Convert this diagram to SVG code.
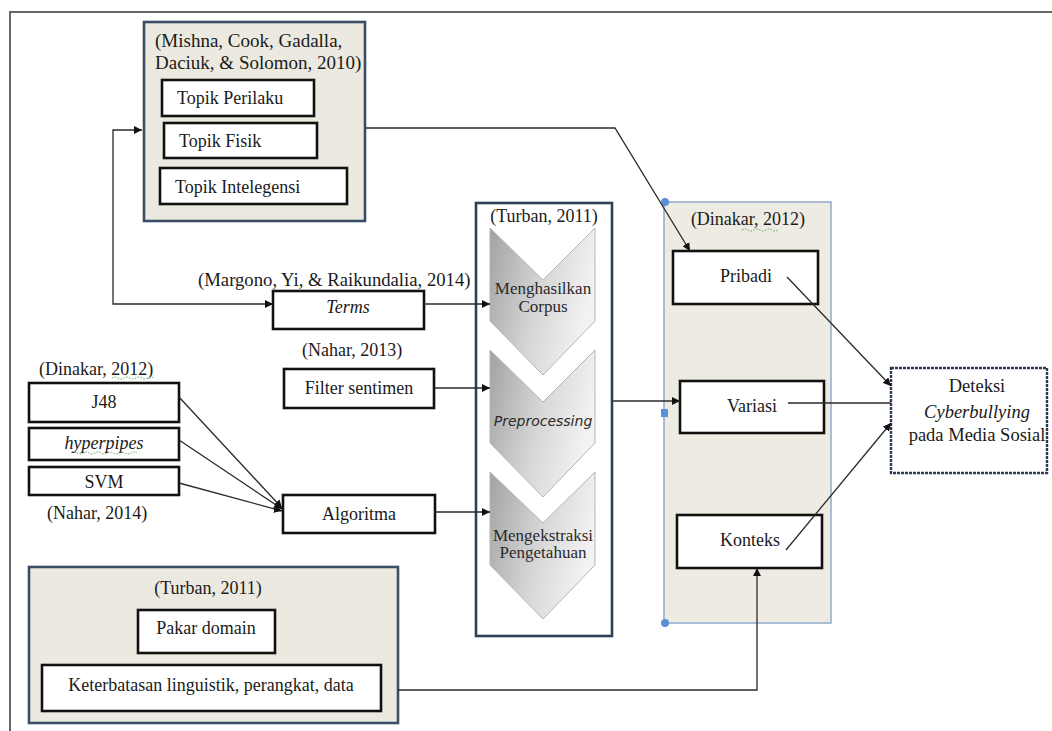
<svg xmlns="http://www.w3.org/2000/svg" width="1052" height="731" viewBox="0 0 1052 731">
<defs>
<style>
text{font-family:"Liberation Serif","DejaVu Serif","Times New Roman",serif;fill:#1a1a1a;font-size:18px}
.c{text-anchor:middle}
.i{font-style:italic}
.box{fill:#fff;stroke:#111;stroke-width:2.6}
.tan{fill:#ECEAE0;stroke:#3B4E66;stroke-width:2.6}
.col{fill:#fff;stroke:#2F4157;stroke-width:2.6}
.panel{fill:#EEECE2;stroke:#93AACB;stroke-width:1.5}
.chev{fill:url(#g);stroke:#b5b5b5;stroke-width:1}
.ct{font-size:17px;fill:#2a2a2a}
.ln{fill:none;stroke:#2a2a2a;stroke-width:1.3}
.sq{fill:none;stroke:#5aa05a;stroke-width:1;stroke-dasharray:1.5 1.5}
.h{fill:#5B8FD9}
.big{font-size:19px}
.out{font-size:18.5px}
</style>
<linearGradient id="g" x1="0" y1="0" x2="1" y2="0.3">
<stop offset="0" stop-color="#a2a2a2"/>
<stop offset="0.55" stop-color="#d6d6d6"/>
<stop offset="1" stop-color="#f2f2f2"/>
</linearGradient>
<marker id="a" viewBox="0 0 10 10" refX="10" refY="5" markerWidth="8" markerHeight="8" markerUnits="userSpaceOnUse" orient="auto-start-reverse">
<path d="M0,0 L10,5 L0,10 Z" fill="#111"/>
</marker>
</defs>
<rect x="0" y="0" width="1052" height="731" fill="#fff"/>
<g id="frame">
<path d="M10,731 V12 H1052" fill="none" stroke="#666" stroke-width="2"/>
</g>

<g id="topik-group">
<rect class="tan" x="144" y="22" width="221" height="199"/>
<text class="big" x="155" y="47">(Mishna, Cook, Gadalla,</text>
<text class="big" x="155" y="69">Daciuk, &amp; Solomon, 2010)</text>
</g>
<g id="topik-perilaku"><rect class="box" x="162" y="80" width="152" height="36"/><text x="177" y="104">Topik Perilaku</text></g>
<g id="topik-fisik"><rect class="box" x="164" y="123" width="153" height="35"/><text x="179" y="147">Topik Fisik</text></g>
<g id="topik-intelegensi"><rect class="box" x="160" y="168" width="187" height="36"/><text x="175" y="193">Topik Intelegensi</text></g>

<g id="terms">
<text x="198" y="286" style="font-size:18.7px">(Margono, Yi, &amp; Raikundalia, 2014)</text>
<rect class="box" x="273" y="291" width="151" height="38"/>
<text class="c i" x="348" y="313">Terms</text>
</g>
<g id="filter">
<text x="302" y="356">(Nahar, 2013)</text>
<rect class="box" x="284" y="369" width="150" height="39"/>
<text class="c" x="359" y="394">Filter sentimen</text>
</g>

<g id="algo-list">
<text x="39" y="375">(Dinakar, 2012)</text>
<path class="sq" d="M112,378 q3,-2 6,0 t6,0 t6,0 t6,0 t6,0 t6,0 t6,0"/>
</g>
<g id="j48"><rect class="box" x="29" y="383" width="150" height="39"/><text class="c" x="104" y="408">J48</text></g>
<g id="hyperpipes"><rect class="box" x="29" y="428" width="150" height="32"/><text class="c i" x="104" y="449">hyperpipes</text>
<path class="sq" d="M71,453 q3,-2 6,0 t6,0 t6,0 t6,0 t6,0 t6,0 t6,0 t6,0 t6,0 t6,0 t6,0"/></g>
<g id="svm"><rect class="box" x="29" y="467" width="150" height="28"/><text class="c" x="104" y="488">SVM</text></g>
<g id="nahar2014"><text x="47" y="519">(Nahar, 2014)</text></g>
<g id="algoritma"><rect class="box" x="283" y="495" width="152" height="38"/><text class="c" x="359" y="520">Algoritma</text></g>

<g id="turban-bottom">
<rect class="tan" x="29" y="567" width="369" height="156"/>
<text class="c" x="208" y="594">(Turban, 2011)</text>
</g>
<g id="pakar"><rect class="box" x="138" y="610" width="137" height="43"/><text class="c" x="206" y="634">Pakar domain</text></g>
<g id="keterbatasan"><rect class="box" x="42" y="665" width="339" height="46"/><text class="c" x="211" y="691">Keterbatasan linguistik, perangkat, data</text></g>

<g id="process-column">
<rect class="col" x="476" y="203" width="136" height="433"/>
<text class="c" x="544" y="222">(Turban, 2011)</text>
</g>
<g id="chev-corpus">
<path class="chev" d="M490,228 L543,280 L595,228 L595,321 L543,375 L490,321 Z"/>
<text class="c ct" x="543" y="294">Menghasilkan</text>
<text class="c ct" x="543" y="312">Corpus</text>
</g>
<g id="chev-pre">
<path class="chev" d="M490,350 L543,402 L595,350 L595,443 L543,497 L490,443 Z"/>
<text class="c ct" x="543" y="426" style="font-family:'DejaVu Sans','Liberation Sans',sans-serif;font-style:italic;font-size:14px">Preprocessing</text>
</g>
<g id="chev-ekstraksi">
<path class="chev" d="M490,472 L543,523 L595,472 L595,565 L543,619 L490,565 Z"/>
<text class="c ct" x="543" y="541">Mengekstraksi</text>
<text class="c ct" x="543" y="558">Pengetahuan</text>
</g>

<g id="dinakar-panel">
<rect class="panel" x="664" y="202" width="167" height="421"/>
<text class="c" x="748" y="225">(Dinakar, 2012)</text>
<path class="sq" d="M742,230 q3,-2 6,0 t6,0 t6,0 t6,0 t6,0 t6,0"/>
<circle class="h" cx="665" cy="202" r="4"/>
<circle class="h" cx="665" cy="623" r="4"/>
<rect class="h" x="661" y="409" width="7" height="8"/>
</g>
<g id="pribadi"><rect class="box" x="673" y="251" width="145" height="53"/><text class="c" x="746" y="282">Pribadi</text></g>
<g id="variasi"><rect class="box" x="680" y="381" width="144" height="52"/><text class="c" x="752" y="412">Variasi</text></g>
<g id="konteks"><rect class="box" x="677" y="515" width="145" height="53"/><text class="c" x="750" y="546">Konteks</text></g>

<g id="deteksi">
<rect x="891" y="368" width="156" height="105" fill="#fff" stroke="#2a3a50" stroke-width="2.4" stroke-dasharray="3 1"/>
<text class="c out" x="977" y="392">Deteksi</text>
<text class="c i out" x="977" y="418">Cyberbullying</text>
<text class="c out" x="977" y="441">pada Media Sosial</text>
</g>

<g id="connectors">
<path class="ln" d="M365,128 H615 L690,251" marker-end="url(#a)"/>
<path class="ln" d="M273,304 H113 V130 H142" marker-start="url(#a)" marker-end="url(#a)"/>
<path class="ln" d="M424,304 H490" marker-end="url(#a)"/>
<path class="ln" d="M434,388 H490" marker-end="url(#a)"/>
<path class="ln" d="M435,512 H490" marker-end="url(#a)"/>
<path class="ln" d="M179,397 L282,508" marker-end="url(#a)"/>
<path class="ln" d="M179,440 L282,509" marker-end="url(#a)"/>
<path class="ln" d="M179,483 L282,511" marker-end="url(#a)"/>
<path class="ln" d="M612,401 H680" marker-end="url(#a)"/>
<path class="ln" d="M787,277 L891,386" marker-end="url(#a)"/>
<path class="ln" d="M788,403 H891"/>
<path class="ln" d="M786,550 L891,423" marker-end="url(#a)"/>
<path class="ln" d="M398,690 H757 V568" marker-end="url(#a)"/>
</g>
</svg>
